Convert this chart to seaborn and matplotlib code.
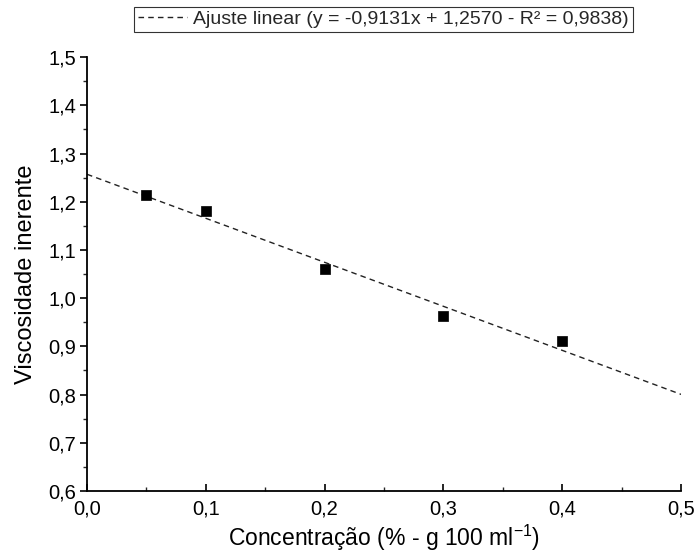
import matplotlib
matplotlib.use("Agg")
import matplotlib.pyplot as plt
import seaborn as sns
import numpy as np
import pandas as pd
from matplotlib.ticker import FuncFormatter, MultipleLocator

# Data
concentracao = [0.05, 0.10, 0.20, 0.30, 0.40]
viscosidade = [1.215, 1.180, 1.061, 0.964, 0.911]
fit_slope = -0.9131
fit_intercept = 1.2570
fit_x_range = [0.0, 0.5]
legend_label = "Ajuste linear (y = -0,9131x + 1,2570 - R² = 0,9838)"
xlabel = "Concentração (% - g 100 ml$^{-1}$)"
ylabel = "Viscosidade inerente"

fam = 'Liberation Sans'
sns.set_style("ticks")
plt.rcParams['font.family'] = [fam, 'DejaVu Sans']
plt.rcParams['mathtext.fontset'] = 'custom'
plt.rcParams['mathtext.rm'] = fam

fig = plt.figure(figsize=(6.96, 5.6), dpi=100)
ax = fig.add_axes([0.125, 0.1232, 0.8535, 0.7748])

df = pd.DataFrame({"x": concentracao, "y": viscosidade})
fx = np.array(fit_x_range)
fit_df = pd.DataFrame({"x": fx, "y": fit_slope * fx + fit_intercept})

sns.lineplot(data=fit_df, x="x", y="y", ax=ax, color="#222222", lw=1.0,
             linestyle=(0, (4, 3)), label=legend_label, legend=False)
sns.scatterplot(data=df, x="x", y="y", ax=ax, marker="s", color="black",
                s=55, edgecolor="black", linewidth=0.5, zorder=3, legend=False)

ax.set_xlim(0, 0.5)
ax.set_ylim(0.6, 1.5)
ax.xaxis.set_major_locator(MultipleLocator(0.1))
ax.xaxis.set_minor_locator(MultipleLocator(0.05))
ax.yaxis.set_major_locator(MultipleLocator(0.1))
ax.yaxis.set_minor_locator(MultipleLocator(0.05))
fmt = FuncFormatter(lambda v, p: f"{v:.1f}".replace(".", ","))
ax.xaxis.set_major_formatter(fmt)
ax.yaxis.set_major_formatter(fmt)

for s in ["top", "right"]:
    ax.spines[s].set_visible(False)
for s in ["left", "bottom"]:
    ax.spines[s].set_linewidth(1.3)
    ax.spines[s].set_color("black")

ax.tick_params(axis="x", which="major", direction="in", length=5, width=1.2,
               labelsize=14.5, pad=6, colors="black")
ax.tick_params(axis="x", which="minor", direction="in", length=3, width=1.0)
ax.tick_params(axis="y", which="major", direction="out", length=5, width=1.2,
               labelsize=14.5, pad=3, colors="black")
ax.tick_params(axis="y", which="minor", direction="out", length=3, width=1.0)

ax.set_xlabel(xlabel, fontsize=16.5, labelpad=3, color="black")
ax.set_ylabel(ylabel, fontsize=17, labelpad=8, color="black")

handles, labels = ax.get_legend_handles_labels()
leg = fig.legend(handles, labels, loc="upper center",
                 bbox_to_anchor=(0.551, 0.988), frameon=True, fancybox=False,
                 edgecolor="black", fontsize=14, handlelength=2.5,
                 handletextpad=0.35, borderpad=0.2, borderaxespad=0)
leg.get_frame().set_linewidth(0.8)

fig.savefig("out.png", dpi=100, facecolor="white")
